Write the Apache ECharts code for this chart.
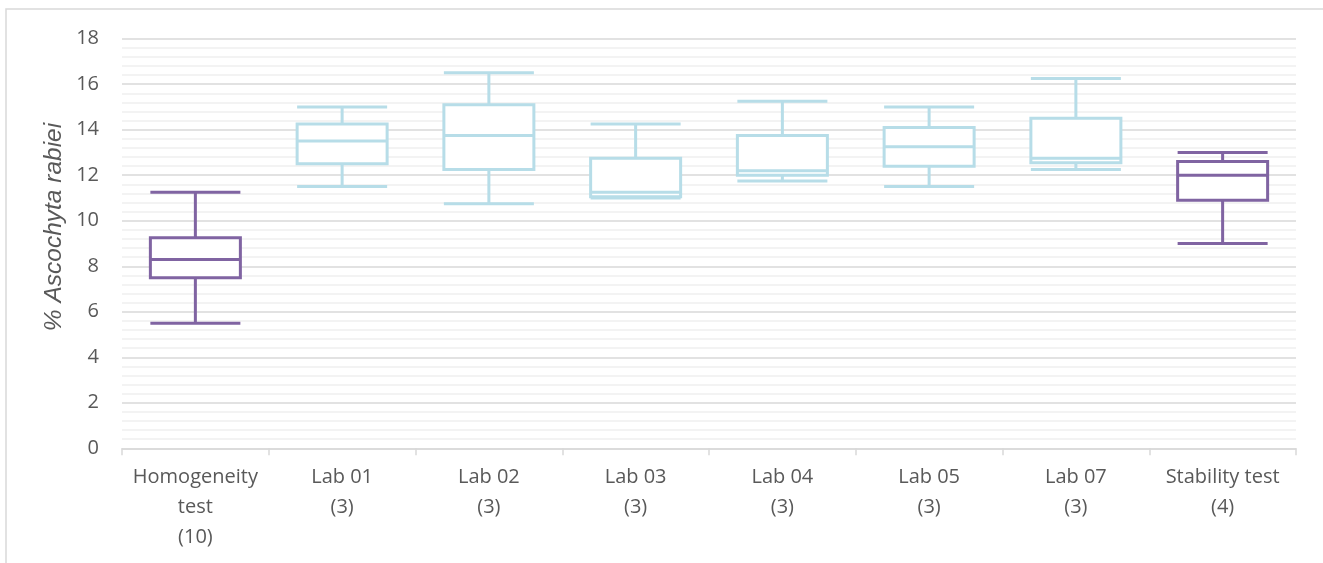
<!DOCTYPE html>
<html>
<head>
<meta charset="utf-8">
<style>
  html, body { margin: 0; padding: 0; background: #ffffff; }
  #chart { width: 1323px; height: 563px; }
</style>
<script src="https://cdn.jsdelivr.net/npm/echarts@6/dist/echarts.min.js"></script>
</head>
<body>
<div id="chart"></div>
<script>
// Groups on the x axis (number of results in brackets)
const categories = [
  'Homogeneity\ntest\n(10)', 'Lab 01\n(3)', 'Lab 02\n(3)', 'Lab 03\n(3)',
  'Lab 04\n(3)', 'Lab 05\n(3)', 'Lab 07\n(3)', 'Stability test\n(4)'
];
// Five-number summaries: min, Q1, median, Q3, max
const minValues    = [5.5, 11.5, 10.75, 11.0, 11.75, 11.5, 12.25, 9.0];
const q1Values     = [7.5, 12.5, 12.25, 11.05, 12.0, 12.4, 12.55, 10.9];
const medianValues = [8.3, 13.5, 13.75, 11.25, 12.2, 13.25, 12.75, 12.0];
const q3Values     = [9.25, 14.25, 15.1, 12.75, 13.75, 14.1, 14.5, 12.6];
const maxValues    = [11.25, 15.0, 16.5, 14.25, 15.25, 15.0, 16.25, 13.0];
// Which groups are the reference tests (drawn in purple)
const isReferenceTest = [true, false, false, false, false, false, false, true];
const yTicks = { min: 0, max: 18, interval: 2 };
const yTitle = '% Ascochyta rabiei';

const purple = '#8064A2';
const lightBlue = '#B7DDE8';
const textGrey = '#595959';
const labelFont = '"Open Sans", "Noto Sans", sans-serif';

const boxData = categories.map((c, i) => ({
  value: [minValues[i], q1Values[i], medianValues[i], q3Values[i], maxValues[i]],
  itemStyle: {
    color: '#ffffff',
    borderColor: isReferenceTest[i] ? purple : lightBlue,
    borderWidth: 3
  }
}));

const chart = echarts.init(document.getElementById('chart'), null, { renderer: 'canvas' });
chart.setOption({
  animation: false,
  backgroundColor: '#ffffff',
  graphic: [
    {
      // chart frame (left and top edges visible)
      type: 'rect',
      shape: { x: 6, y: 9, width: 1400, height: 600 },
      style: { fill: 'none', stroke: '#D9D9D9', lineWidth: 1.5 },
      silent: true,
      z: -1
    },
    {
      // rotated y-axis title
      type: 'text',
      x: 54,
      y: 227,
      rotation: Math.PI / 2,
      style: {
        text: yTitle,
        fill: textGrey,
        fontSize: 24.5,
        fontStyle: 'italic',
        fontFamily: '"Liberation Sans", Arial, sans-serif',
        textAlign: 'center',
        textVerticalAlign: 'middle'
      },
      silent: true
    }
  ],
  grid: { left: 122, right: 27, top: 38.7, bottom: 114.7 },
  xAxis: {
    type: 'category',
    data: categories,
    boundaryGap: true,
    axisLine: { lineStyle: { color: '#D9D9D9', width: 1.5 } },
    axisTick: { show: true, alignWithLabel: false, length: 7, lineStyle: { color: '#D9D9D9', width: 1.5 } },
    axisLabel: {
      color: textGrey, fontSize: 20, lineHeight: 30, margin: 14,
      fontFamily: labelFont, interval: 0
    },
    splitLine: { show: false }
  },
  yAxis: {
    type: 'value',
    min: yTicks.min, max: yTicks.max, interval: yTicks.interval,
    axisLine: { show: false },
    axisTick: { show: false },
    axisLabel: {
      color: textGrey, fontSize: 20, margin: 23,
      fontFamily: labelFont
    },
    splitLine: { show: true, lineStyle: { color: '#D9D9D9', width: 1.5 } },
    minorTick: { show: false, splitNumber: 5 },
    minorSplitLine: { show: true, lineStyle: { color: '#F0F0F0', width: 1.5 } }
  },
  series: [{
    type: 'boxplot',
    data: boxData,
    boxWidth: [90, 90],
    itemStyle: { borderWidth: 3 }
  }]
});
</script>
</body>
</html>
